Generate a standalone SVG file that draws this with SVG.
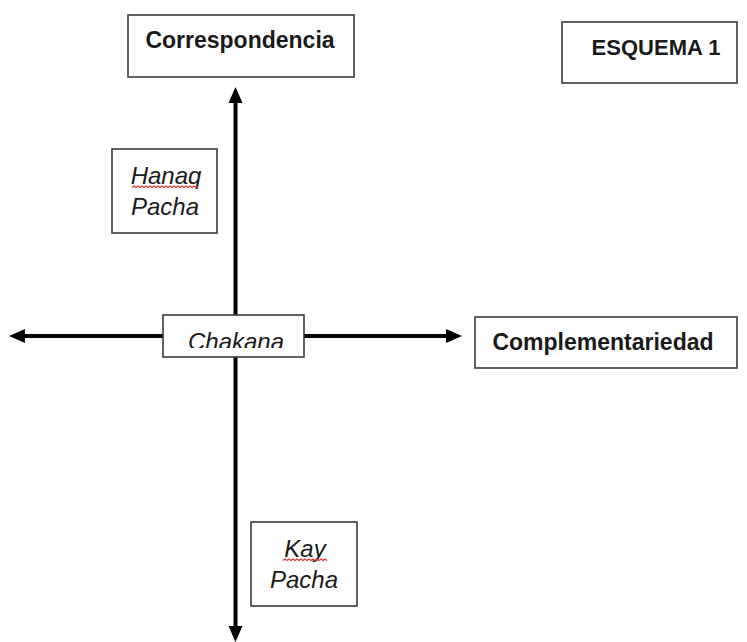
<svg xmlns="http://www.w3.org/2000/svg" width="747" height="642" viewBox="0 0 747 642">
  <style>
    .box { fill: #ffffff; stroke: #3a3a3a; stroke-width: 1.6; }
    .bold { font-family: "Liberation Sans", Arial, sans-serif; font-weight: bold; fill: #1a1a1a; font-size: 23px; }
    .ital { font-family: "Liberation Sans", Arial, sans-serif; font-style: italic; fill: #1a1a1a; font-size: 24px; }
    .axis { stroke: #000; stroke-width: 4; fill: none; }
    .squig { stroke: #e03030; stroke-width: 1.1; fill: none; }
  </style>
  <defs>
    <clipPath id="chakclip"><rect x="163" y="315" width="141" height="33"/></clipPath>
  </defs>
  <rect width="747" height="642" fill="#ffffff"/>

  <g id="connectors">
    <line class="axis" x1="235.5" y1="100" x2="235.5" y2="630"/>
    <polygon points="235.5,87 228.5,103 242.5,103" fill="#000"/>
    <polygon points="235.5,642 228.5,626 242.5,626" fill="#000"/>
    <line class="axis" x1="22" y1="336" x2="450" y2="336"/>
    <polygon points="9,336 25,329 25,343" fill="#000"/>
    <polygon points="462,336 446,329 446,343" fill="#000"/>
  </g>

  <g id="correspondencia">
    <rect class="box" x="128" y="15" width="226" height="62"/>
    <text class="bold" x="240" y="48" text-anchor="middle">Correspondencia</text>
  </g>

  <g id="esquema">
    <rect class="box" x="562" y="22" width="175" height="61"/>
    <text class="bold" x="656" y="55" text-anchor="middle" style="font-size:22px">ESQUEMA 1</text>
  </g>

  <g id="hanaq">
    <rect class="box" x="112" y="149" width="105" height="84"/>
    <text class="ital" x="166" y="184" text-anchor="middle">Hanaq</text>
    <path class="squig" d="M132,187.5 l2,-1.5 l2,1.5 l2,-1.5 l2,1.5 l2,-1.5 l2,1.5 l2,-1.5 l2,1.5 l2,-1.5 l2,1.5 l2,-1.5 l2,1.5 l2,-1.5 l2,1.5 l2,-1.5 l2,1.5 l2,-1.5 l2,1.5 l2,-1.5 l2,1.5 l2,-1.5 l2,1.5 l2,-1.5 l2,1.5 l2,-1.5 l2,1.5 l2,-1.5 l2,1.5 l2,-1.5 l2,1.5 l2,-1.5 l2,1.5 l2,-1.5"/>
    <text class="ital" x="165" y="215" text-anchor="middle">Pacha</text>
  </g>

  <g id="chakana">
    <rect class="box" x="163" y="315" width="141" height="42"/>
    <text class="ital" x="236" y="350" text-anchor="middle" clip-path="url(#chakclip)">Chakana</text>
  </g>

  <g id="complementariedad">
    <rect class="box" x="475" y="317" width="262" height="51"/>
    <text class="bold" x="603" y="350" text-anchor="middle">Complementariedad</text>
  </g>

  <g id="kay">
    <rect class="box" x="251" y="522" width="106" height="84"/>
    <text class="ital" x="305" y="557" text-anchor="middle">Kay</text>
    <path class="squig" d="M283,560.5 l2,-1.5 l2,1.5 l2,-1.5 l2,1.5 l2,-1.5 l2,1.5 l2,-1.5 l2,1.5 l2,-1.5 l2,1.5 l2,-1.5 l2,1.5 l2,-1.5 l2,1.5 l2,-1.5 l2,1.5 l2,-1.5 l2,1.5 l2,-1.5 l2,1.5 l2,-1.5 l2,1.5"/>
    <text class="ital" x="304" y="588" text-anchor="middle">Pacha</text>
  </g>
</svg>
